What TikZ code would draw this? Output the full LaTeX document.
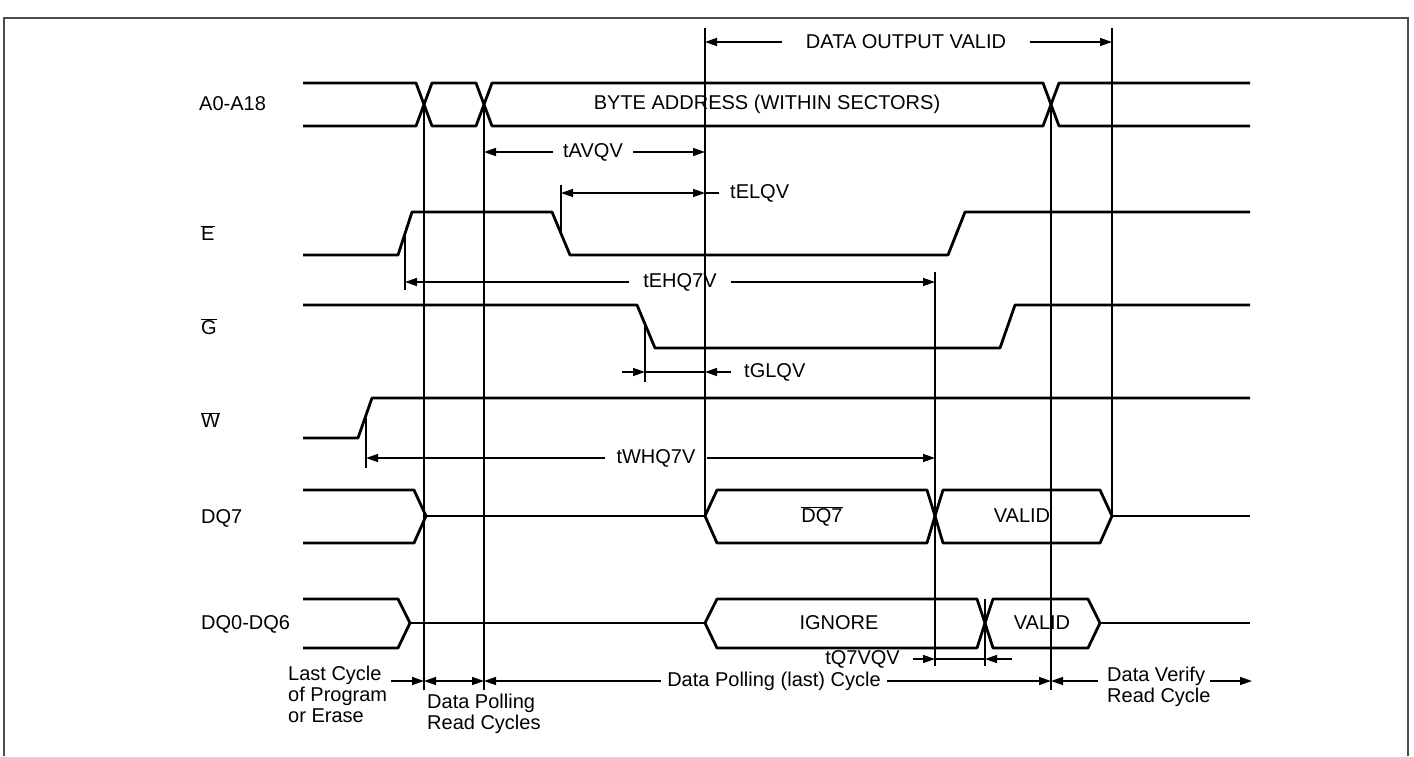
\documentclass[tikz,border=0pt]{standalone}
\usepackage{fontspec}
\setmainfont{Liberation Sans}
\usetikzlibrary{arrows.meta}
\newcommand\ovl[1]{$\overline{\hbox{#1}}$}
\begin{document}
\begin{tikzpicture}[x=1pt,y=-1pt,
  sig/.style={line width=2.8pt, line join=round},
  vl/.style={line width=1.4pt},
  dim/.style={line width=1.4pt},
  frame/.style={line width=2pt, draw=black!70},
  tip/.style={-{Triangle[length=12pt,width=8pt]}},
  tips/.style={{Triangle[length=12pt,width=8pt]}-{Triangle[length=12pt,width=8pt]}},
  lbl/.style={font=\fontsize{20}{21}\selectfont, inner sep=0pt},
  gap/.style={lbl, inner xsep=10pt},
]
\useasboundingbox (0,0) rectangle (1414,756);
\draw[frame] (4,756) -- (4,18) -- (1408,18) -- (1408,756);

% ---------- signal labels ----------
\node[lbl, anchor=west] (lA) at (199,104) {A0-A18};
\node[lbl, anchor=west] (lE) at (201,233) {\ovl{E}};
\node[lbl, anchor=west] (lG) at (201,327) {\ovl{G}};
\node[lbl, anchor=west] (lW) at (201,420) {\ovl{W}};
\node[lbl, anchor=west] (lD7) at (201,518) {DQ7};
\node[lbl, anchor=west] (lD0) at (201,624) {DQ0-DQ6};

% ---------- A0-A18 ----------
\draw[sig] (303,83) -- (416,83) -- (432,126) -- (476,126) -- (492,83) -- (1043,83) -- (1059,126) -- (1250,126);
\draw[sig] (303,126) -- (416,126) -- (432,83) -- (476,83) -- (492,126) -- (1043,126) -- (1059,83) -- (1250,83);
\node[lbl] (byte) at (767,104) {BYTE ADDRESS (WITHIN SECTORS)};

% ---------- E ----------
\draw[sig] (303,255) -- (398,255) -- (412,212) -- (552,212) -- (570,255) -- (948,255) -- (965,212) -- (1250,212);
% ---------- G ----------
\draw[sig] (303,305) -- (637,305) -- (655,348) -- (1000,348) -- (1015,305) -- (1250,305);
% ---------- W ----------
\draw[sig] (303,438) -- (358,438) -- (372,398) -- (1250,398);

% ---------- DQ7 ----------
\draw[sig] (303,490) -- (414,490) -- (426,516) -- (414,543) -- (303,543);
\draw[sig] (426,516) -- (705,516);
\draw[sig] (705,516) -- (717,490) -- (927,490) -- (935,516) -- (927,543) -- (717,543) -- cycle;
\draw[sig] (935,516) -- (943,490) -- (1100,490) -- (1112,516) -- (1100,543) -- (943,543) -- cycle;
\draw[sig] (1112,516) -- (1250,516);
\node[lbl] (dq7b) at (822,516) {\ovl{DQ7}};
\node[lbl] (v7) at (1022,516) {VALID};

% ---------- DQ0-DQ6 ----------
\draw[sig] (303,599) -- (398,599) -- (410,623) -- (398,648) -- (303,648);
\draw[sig] (410,623) -- (705,623);
\draw[sig] (705,623) -- (717,599) -- (977,599) -- (985,623) -- (977,648) -- (717,648) -- cycle;
\draw[sig] (985,623) -- (993,599) -- (1088,599) -- (1100,623) -- (1088,648) -- (993,648) -- cycle;
\draw[sig] (1100,623) -- (1250,623);
\node[lbl] (ign) at (839,623) {IGNORE};
\node[lbl] (v0) at (1042,623) {VALID};

% ---------- vertical reference lines ----------
\draw[vl] (424,104) -- (424,690);
\draw[vl] (484,104) -- (484,690);
\draw[vl] (705,28) -- (705,516);
\draw[vl] (1112,28) -- (1112,516);
\draw[vl] (1051,104) -- (1051,690);
\draw[vl] (935,272) -- (935,666);
\draw[vl] (985,599) -- (985,666);
\draw[vl] (561,185) -- (561,232);
\draw[vl] (405,232) -- (405,290);
\draw[vl] (645,322) -- (645,382);
\draw[vl] (366,418) -- (366,468);

% ---------- dimensions ----------
\node[lbl, inner xsep=24pt] (dov) at (906,42) {DATA OUTPUT VALID};
\draw[dim,tip] (dov.west) -- (705,42);
\draw[dim,tip] (dov.east) -- (1112,42);

\node[gap] (tavqv) at (593,152) {tAVQV};
\draw[dim,tip] (tavqv.west) -- (484,152);
\draw[dim,tip] (tavqv.east) -- (705,152);

\node[lbl, anchor=west, inner xsep=11pt] (telqv) at (719,193) {tELQV};
\draw[dim,tips] (561,193) -- (705,193);
\draw[dim] (705,193) -- (719,193);

\node[lbl, inner xsep=14pt] (tehq) at (680,282) {tEHQ7V};
\draw[dim,tip] (tehq.west) -- (405,282);
\draw[dim,tip] (tehq.east) -- (935,282);

\node[lbl, anchor=west, inner xsep=13pt] (tglqv) at (731,372) {tGLQV};
\draw[dim,tip] (622,372) -- (645,372);
\draw[dim] (645,372) -- (705,372);
\draw[dim,tip] (tglqv.west) -- (705,372);

\node[lbl, inner xsep=11pt] (twhq) at (656,458) {tWHQ7V};
\draw[dim,tip] (twhq.west) -- (366,458);
\draw[dim,tip] (twhq.east) -- (935,458);

\node[lbl, anchor=east, inner xsep=13pt] (tq7) at (913,659) {tQ7VQV};
\draw[dim,tip] (tq7.east) -- (935,659);
\draw[dim] (935,659) -- (985,659);
\draw[dim,tip] (1012,659) -- (985,659);

% ---------- bottom cycle annotations ----------
\node[lbl, align=left, anchor=north west] (last) at (288,666) {Last Cycle\\of Program\\or Erase};
\node[lbl, align=left, anchor=north west] (dpr) at (427,694) {Data Polling\\Read Cycles};
\node[lbl, inner xsep=6pt] (dpl) at (774,681) {Data Polling (last) Cycle};
\node[lbl, align=left, anchor=north west, inner xsep=0pt] (dvr) at (1107,667) {Data Verify\\Read Cycle};
\draw[dim,tip] (391,681) -- (424,681);
\draw[dim,tips] (424,681) -- (484,681);
\draw[dim,tip] (dpl.west) -- (484,681);
\draw[dim,tip] (dpl.east) -- (1051,681);
\draw[dim,tip] (1098,681) -- (1051,681);
\draw[dim,tip] (1210,681) -- (1252,681);
\end{tikzpicture}
\end{document}
